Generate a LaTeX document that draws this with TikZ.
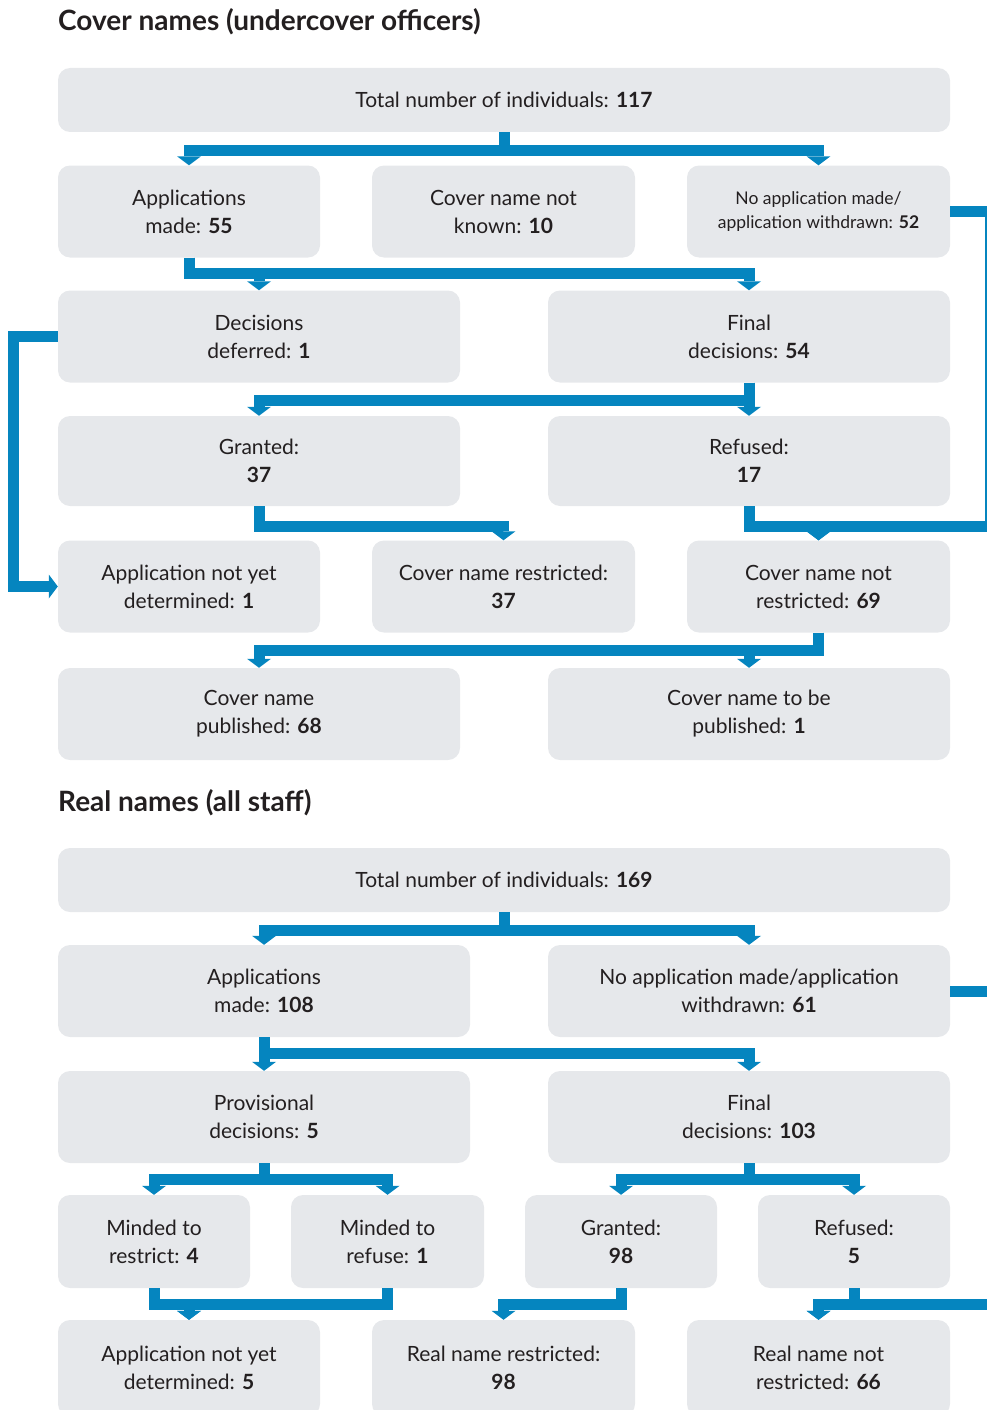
\documentclass[tikz,border=0pt]{standalone}
\usepackage{fontspec}
\setmainfont{Lato}
\usetikzlibrary{arrows.meta}
\definecolor{boxgray}{RGB}{230,232,235}
\definecolor{linkblue}{RGB}{5,133,191}
\definecolor{inkdark}{RGB}{35,31,32}
\tikzset{link/.style = {draw=linkblue, line width=11pt, -{Triangle[width=24pt,length=9pt,line width=0pt]}}}

\begin{document}
\begin{tikzpicture}[x=1pt, y=-1pt,
    box/.style={rounded corners=12pt, fill=boxgray, text=inkdark, align=center, inner sep=0pt,
                minimum height=92pt, font=\fontsize{21}{28}\selectfont},
    head/.style={anchor=west, text=inkdark, inner sep=0pt, font=\fontsize{28}{32}\selectfont\bfseries}]
    \useasboundingbox (0,0) rectangle (987,1410);
    \clip (0,0) rectangle (987,1410);

    % cover names
    \node[head] (h1) at (58,22) {Cover names (undercover officers)};
    \node[box, minimum width=892pt, minimum height=64pt] (tot1) at (504,100) {Total number of individuals: \textbf{117}};
    \node[box, minimum width=262pt] (app1) at (189,211.5) {Applications\\made: \textbf{55}};
    \node[box, minimum width=263pt] (unk1) at (503.5,211.5) {Cover name not\\known: \textbf{10}};
    \node[box, minimum width=263pt, font=\fontsize{17.5}{24}\selectfont] (noapp1) at (818.5,211.5) {No application made/\\application withdrawn: \textbf{52}};
    \node[box, minimum width=402pt] (def1) at (259,336.5) {Decisions\\deferred: \textbf{1}};
    \node[box, minimum width=402pt] (fin1) at (749,336.5) {Final\\decisions: \textbf{54}};
    \node[box, minimum width=402pt, minimum height=90pt] (gr1) at (259,461) {Granted:\\\textbf{37}};
    \node[box, minimum width=402pt, minimum height=90pt] (ref1) at (749,461) {Refused:\\\textbf{17}};
    \node[box, minimum width=262pt] (nyd1) at (189,586.5) {Application not yet\\determined: \textbf{1}};
    \node[box, minimum width=263pt] (res1) at (503.5,586.5) {Cover name restricted:\\\textbf{37}};
    \node[box, minimum width=263pt] (nres1) at (818.5,586.5) {Cover name not\\restricted: \textbf{69}};
    \node[box, minimum width=402pt] (pub1) at (259,714) {Cover name\\published: \textbf{68}};
    \node[box, minimum width=402pt] (tbp1) at (749,714) {Cover name to be\\published: \textbf{1}};
    \coordinate (edge1) at (990,526);

    \draw[link] (tot1.south) -- ++(0,18) -| (app1.north);
    \draw[link] (tot1.south) -- ++(0,18) -| (noapp1.north);
    \draw[link] (app1.south) -- ++(0,16) -| (def1.north);
    \draw[link] (app1.south) -- ++(0,16) -| (fin1.north);
    \draw[link] (def1.west) -- ++(-44,0) |- (nyd1.west);
    \draw[link] (fin1.south) -- ++(0,18) -| (gr1.north);
    \draw[link] (fin1.south) -- (ref1.north);
    \draw[link] (gr1.south) -- ++(0,20) -| (res1.north);
    \draw[link] (ref1.south) -- ++(0,20) -| (nres1.north);
    \draw[link] (noapp1.east) -| (edge1) -| (nres1.north);
    \draw[link] (nres1.south) -- ++(0,18) -| (pub1.north);
    \draw[link] (nres1.south) -- ++(0,18) -| (tbp1.north);

    % real names
    \node[head] (h2) at (58,803) {Real names (all staff)};
    \node[box, minimum width=892pt, minimum height=64pt] (tot2) at (504,880) {Total number of individuals: \textbf{169}};
    \node[box, minimum width=412pt] (app2) at (264,991) {Applications\\made: \textbf{108}};
    \node[box, minimum width=402pt] (noapp2) at (749,991) {No application made/application\\withdrawn: \textbf{61}};
    \node[box, minimum width=412pt] (prov2) at (264,1117) {Provisional\\decisions: \textbf{5}};
    \node[box, minimum width=402pt] (fin2) at (749,1117) {Final\\decisions: \textbf{103}};
    \node[box, minimum width=192pt, minimum height=93pt] (mres2) at (154,1241.5) {Minded to\\restrict: \textbf{4}};
    \node[box, minimum width=193pt, minimum height=93pt] (mref2) at (387.5,1241.5) {Minded to\\refuse: \textbf{1}};
    \node[box, minimum width=192pt, minimum height=93pt] (gr2) at (621,1241.5) {Granted:\\\textbf{98}};
    \node[box, minimum width=192pt, minimum height=93pt] (ref2) at (854,1241.5) {Refused:\\\textbf{5}};
    \node[box, minimum width=262pt, minimum height=96pt] (nyd2) at (189,1368) {Application not yet\\determined: \textbf{5}};
    \node[box, minimum width=263pt, minimum height=96pt] (res2) at (503.5,1368) {Real name restricted:\\\textbf{98}};
    \node[box, minimum width=263pt, minimum height=96pt] (nres2) at (818.5,1368) {Real name not\\restricted: \textbf{66}};
    \coordinate (edge2) at (1000,1304);

    \draw[link] (tot2.south) -- ++(0,18) -| (app2.north);
    \draw[link] (tot2.south) -- ++(0,18) -| (noapp2.north);
    \draw[link] (app2.south) -- (prov2.north);
    \draw[link] (app2.south) -- ++(0,16) -| (fin2.north);
    \draw[link] (noapp2.east) -| (edge2) -| (nres2.north);
    \draw[link] (prov2.south) -- ++(0,16) -| (mres2.north);
    \draw[link] (prov2.south) -- ++(0,16) -| (mref2.north);
    \draw[link] (fin2.south) -- ++(0,16) -| (gr2.north);
    \draw[link] (fin2.south) -- ++(0,16) -| (ref2.north);
    \draw[link] (mres2.south) -- ++(0,16) -| (nyd2.north);
    \draw[link] (mref2.south) -- ++(0,16) -| (nyd2.north);
    \draw[link] (gr2.south) -- ++(0,16) -| (res2.north);
    \draw[link] (ref2.south) -- ++(0,16) -| (nres2.north);
\end{tikzpicture}
\end{document}
